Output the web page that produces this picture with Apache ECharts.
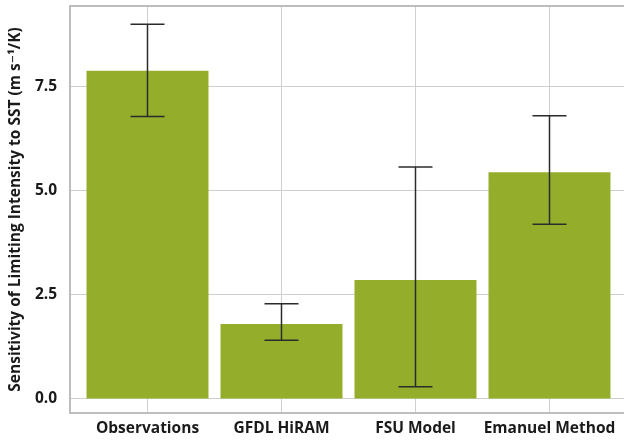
<!DOCTYPE html>
<html>
<head>
<meta charset="utf-8">
<script src="https://cdn.jsdelivr.net/npm/echarts@6/dist/echarts.min.js"></script>
<style>html,body{margin:0;padding:0;background:#fff}#c{width:624px;height:440px}</style>
</head>
<body>
<div id="c"></div>
<script>
const categories = ['Observations', 'GFDL HiRAM', 'FSU Model', 'Emanuel Method'];
const values = [7.88, 1.79, 2.85, 5.44];
const errLow = [6.78, 1.40, 0.28, 4.19];
const errHigh = [9.00, 2.28, 5.57, 6.80];
const yTicks = [0, 2.5, 5, 7.5];
const yTitle = 'Sensitivity of Limiting Intensity to SST (m s\u207B\u00B9/K)';

const chart = echarts.init(document.getElementById('c'), null, {renderer: 'canvas'});
const barData = values.map((v, i) => [i, v]);
const errData = categories.map((c, i) => [i, errLow[i], errHigh[i]]);
const font = '"Open Sans", "DejaVu Sans", sans-serif';
const borderStyle = {color: '#bdbdbd', width: 2};

chart.setOption({
  animation: false,
  grid: {left: 66, right: 0, top: 6, bottom: 27, containLabel: false},
  xAxis: [{
    type: 'value', min: -0.578, max: 3.556, position: 'bottom',
    axisLine: {show: true, onZero: false, lineStyle: borderStyle},
    axisTick: {show: false, customValues: [0, 1, 2, 3]},
    splitLine: {show: true, lineStyle: {color: '#cfcfcf', width: 1}},
    axisLabel: {
      customValues: [0, 1, 2, 3],
      formatter: v => categories[Math.round(v)],
      color: '#1a1a1a', fontFamily: font, fontWeight: 'bold', fontSize: 15.5, margin: 8
    }
  }, {
    type: 'value', min: -0.578, max: 3.556, position: 'top',
    axisLine: {show: true, onZero: false, lineStyle: borderStyle},
    axisTick: {show: false}, axisLabel: {show: false}, splitLine: {show: false}
  }],
  yAxis: {
    type: 'value', min: -0.35, max: 9.44,
    name: yTitle, nameLocation: 'middle', nameGap: 44,
    nameTextStyle: {color: '#1a1a1a', fontFamily: font, fontWeight: 'bold', fontSize: 15.5},
    axisLine: {show: true, onZero: false, lineStyle: borderStyle},
    axisTick: {show: false, customValues: yTicks},
    splitLine: {show: true, lineStyle: {color: '#cfcfcf', width: 1}},
    axisLabel: {
      customValues: yTicks,
      formatter: v => v.toFixed(1),
      color: '#1a1a1a', fontFamily: font, fontWeight: 'bold', fontSize: 15.5, margin: 13
    }
  },
  series: [
    {
      type: 'custom', data: barData, z: 5, xAxisIndex: 0,
      renderItem: function (params, api) {
        const x = api.value(0);
        const top = api.coord([x, api.value(1)]);
        const base = api.coord([x, 0]);
        const w = 122;
        return {
          type: 'rect',
          shape: {x: top[0] - w / 2, y: top[1], width: w, height: base[1] - top[1]},
          style: {fill: '#94ae2c'}
        };
      }
    },
    {
      type: 'custom', data: errData, z: 10, xAxisIndex: 0,
      renderItem: function (params, api) {
        const x = api.value(0);
        const lo = api.coord([x, api.value(1)]);
        const hi = api.coord([x, api.value(2)]);
        const half = 17;
        const style = {stroke: '#2b2b2b', lineWidth: 1.5};
        return {
          type: 'group',
          children: [
            {type: 'line', shape: {x1: hi[0], y1: hi[1], x2: lo[0], y2: lo[1]}, style},
            {type: 'line', shape: {x1: hi[0] - half, y1: hi[1], x2: hi[0] + half, y2: hi[1]}, style},
            {type: 'line', shape: {x1: lo[0] - half, y1: lo[1], x2: lo[0] + half, y2: lo[1]}, style}
          ]
        };
      }
    }
  ]
});
</script>
</body>
</html>
